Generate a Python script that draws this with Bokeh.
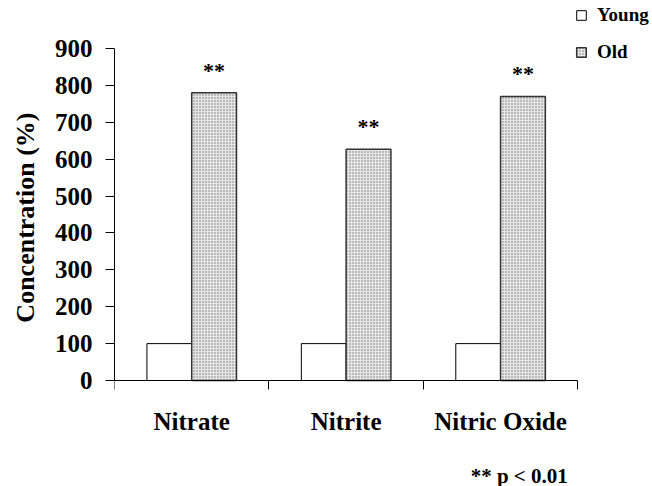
from bokeh.plotting import figure
from bokeh.models import Range1d, FixedTicker, ColumnDataSource, Legend, LegendItem, Label, Title
from bokeh.transform import dodge
from bokeh.core.properties import value
from bokeh.embed import file_html
from bokeh.resources import INLINE

categories = ["Nitrate", "Nitrite", "Nitric Oxide"]
young = [100, 100, 100]
old = [780, 627, 770]
marks = ["**", "**", "**"]
y_ticks = [0, 100, 200, 300, 400, 500, 600, 700, 800, 900]
y_title = "Concentration (%)"
note_text = "** p < 0.01"

FONT = "Liberation Serif"
n = len(categories)
PX = 900 / 332  # data units per pixel on y

centers = [i + 0.5 for i in range(n)]
src = ColumnDataSource(dict(x=centers, young=young, old=old, mark=marks))

# the frame covers the top, right and bottom of the page so nothing is clipped;
# axis bounds / fixed_location keep the axis lines to the data extent
p = figure(width=652, height=486, output_backend="svg", toolbar_location=None,
           x_range=Range1d(0, n + 75 / 155), y_range=Range1d(-106 * PX, 380 * PX),
           min_border_left=112, min_border_right=0, min_border_top=0, min_border_bottom=0)
p.outline_line_color = None
p.xgrid.visible = False
p.ygrid.visible = False
p.background_fill_color = "white"
p.border_fill_color = "white"

ry = p.vbar(x=dodge("x", -0.145, range=p.x_range), top="young", width=0.29, source=src,
            fill_color="white", line_color="black", line_width=1)
ro = p.vbar(x=dodge("x", 0.145, range=p.x_range), top="old", width=0.29, source=src,
            fill_color="#e6e6e6", line_color="#333333", line_width=1.5,
            hatch_pattern="dot", hatch_scale=3, hatch_weight=1, hatch_color="#777777")

p.text(x=dodge("x", 0.145, range=p.x_range), y="old", text="mark", source=src,
       text_font=value(FONT), text_font_style="bold", text_font_size="22px",
       text_color="black", text_align="center", text_baseline="bottom", y_offset=-10)

# y axis
p.yaxis.ticker = FixedTicker(ticks=y_ticks)
p.yaxis.bounds = (0, 900)
p.yaxis.major_label_text_font = FONT
p.yaxis.major_label_text_font_style = "bold"
p.yaxis.major_label_text_font_size = "25px"
p.yaxis.major_label_text_color = "black"
p.yaxis.major_label_standoff = 13
p.yaxis.major_tick_out = 9
p.yaxis.major_tick_in = 0
p.yaxis.minor_tick_out = 0
p.yaxis.minor_tick_in = 0
p.yaxis.axis_line_color = "black"
p.yaxis.major_tick_line_color = "black"

# y-axis title, placed on the 0..900 span rather than on the whole frame
ytitle = Title(text=y_title, align="right", offset=112, standoff=20, vertical_align="top",
               text_font=FONT, text_font_style="bold", text_font_size="26px", text_color="black")
p.add_layout(ytitle, "left")

# x axis at y = 0: labels at category centres, tick marks at category boundaries
p.xaxis.fixed_location = 0
p.xaxis.ticker = FixedTicker(ticks=centers, minor_ticks=list(range(n + 1)))
p.xaxis.bounds = (0, n)
p.xaxis.major_label_overrides = {c: name for c, name in zip(centers, categories)}
p.xaxis.major_label_text_font = FONT
p.xaxis.major_label_text_font_style = "bold"
p.xaxis.major_label_text_font_size = "25px"
p.xaxis.major_label_text_color = "black"
p.xaxis.major_label_standoff = 18
p.xaxis.major_tick_out = 0
p.xaxis.major_tick_in = 0
p.xaxis.minor_tick_out = 9
p.xaxis.minor_tick_in = 0
p.xaxis.minor_tick_line_color = "black"
p.xaxis.axis_line_color = "black"

legend = Legend(items=[LegendItem(label="Young", renderers=[ry]),
                       LegendItem(label="Old", renderers=[ro])],
                location=(461, 423), orientation="vertical",
                label_text_font=FONT, label_text_font_style="bold", label_text_font_size="19px",
                label_text_color="black",
                glyph_width=12, glyph_height=12, label_height=20, spacing=15,
                padding=0, margin=0, label_standoff=10,
                border_line_color=None, background_fill_alpha=0)
p.add_layout(legend, "center")

note = Label(x=(567 - 112) / 155, y=-95 * PX, text=note_text,
             text_font=FONT, text_font_style="bold", text_font_size="21px", text_color="black",
             text_align="right", text_baseline="middle")
p.add_layout(note)

open("out.html", "w").write(file_html(p, INLINE))
